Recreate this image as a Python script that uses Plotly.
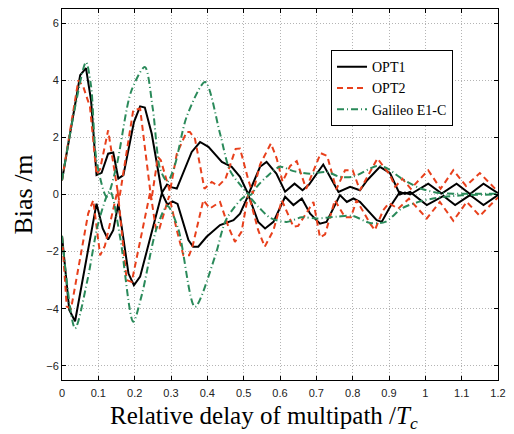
import plotly.graph_objects as go

# ---------------- data ----------------
opt1_up_x = [0, 0.05, 0.066, 0.08, 0.095, 0.109, 0.127, 0.141, 0.155, 0.169, 0.198, 0.215, 0.228, 0.247,
             0.275, 0.289, 0.303, 0.316, 0.357, 0.380, 0.403, 0.440, 0.467, 0.490, 0.513, 0.545, 0.563,
             0.590, 0.614, 0.640, 0.662, 0.680, 0.719, 0.761, 0.793, 0.820, 0.840, 0.875, 0.903, 0.930,
             0.944, 0.958, 1.008, 1.045, 1.086, 1.123, 1.160, 1.200]
opt1_up_y = [0.5, 4.18, 4.43, 3.3, 0.68, 0.76, 1.43, 1.47, 0.56, 0.68, 2.54, 3.09, 3.05, 2.13,
             0.06, 0.35, 0.25, 0.21, 1.49, 1.84, 1.67, 1.14, 0.97, 0.62, 0.0, 0.97, 1.14,
             0.73, 0.10, 0.38, 0.15, 0.35, 1.05, 0.09, 0.27, 0.15, 0.5, 0.97, 0.75, 0.0,
             0.07, 0.0, 0.38, 0.03, 0.38, 0.02, 0.38, 0.05]
opt1_lo_x = [0, 0.02, 0.036, 0.095, 0.112, 0.127, 0.141, 0.155, 0.183, 0.198, 0.215, 0.261, 0.275,
             0.290, 0.304, 0.318, 0.348, 0.361, 0.375, 0.398, 0.435, 0.472, 0.490, 0.513, 0.540, 0.559,
             0.582, 0.614, 0.637, 0.660, 0.683, 0.710, 0.728, 0.765, 0.784, 0.802, 0.820, 0.866, 0.880,
             0.903, 0.930, 0.944, 0.958, 1.004, 1.050, 1.082, 1.123, 1.160, 1.200]
opt1_lo_y = [-1.45, -4.05, -4.44, -0.32, -1.19, -1.58, -1.25, -0.32, -2.77, -3.18, -2.88, -0.67, 0.05,
             -0.35, -0.24, -0.33, -1.6, -1.83, -1.83, -1.48, -1.07, -0.9, -0.67, -0.02, -0.96, -1.19,
             -0.96, -0.08, -0.37, -0.14, -0.67, -1.02, -0.96, -0.02, -0.26, -0.14, -0.26, -0.90, -0.96,
             -0.43, 0.09, 0.02, 0.09, -0.37, -0.05, -0.37, -0.02, -0.37, -0.02]

opt2_up_x = [0, 0.045, 0.058, 0.077, 0.095, 0.105, 0.127, 0.157, 0.196, 0.215, 0.246, 0.264, 0.272,
             0.297, 0.316, 0.343, 0.352, 0.366, 0.392, 0.412, 0.430, 0.450, 0.478, 0.490, 0.513, 0.525,
             0.545, 0.575, 0.591, 0.607, 0.628, 0.646, 0.672, 0.712, 0.730, 0.755, 0.779, 0.800, 0.820,
             0.868, 0.903, 0.917, 0.937, 0.960, 1.008, 1.042, 1.077, 1.112, 1.150, 1.190, 1.200]
opt2_up_y = [0.5, 4.0, 3.8, 3.07, 0.7, 0.9, 2.25, -0.2, 2.95, 3.01, -0.2, 1.32, 1.2,
             0.1, 1.43, 2.19, 2.19, 1.95, 0.2, 0.44, 0.3, 0.55, 1.6, 1.61, 0.5, 0.03,
             1.05, 1.79, 1.26, 0.45, 1.0, 1.17, 0.2, 1.45, 1.35, 0.18, 0.85, 0.85, 0.15,
             1.26, 0.68, 0.27, 0.55, 0.2, 0.85, 0.2, 0.85, 0.3, 0.75, 0.2, 0.1]
opt2_lo_x = [0, 0.013, 0.025, 0.072, 0.086, 0.105, 0.118, 0.153, 0.178, 0.192, 0.243, 0.259, 0.268,
             0.295, 0.316, 0.334, 0.350, 0.360, 0.389, 0.407, 0.435, 0.458, 0.476, 0.494, 0.513, 0.540,
             0.558, 0.582, 0.605, 0.637, 0.650, 0.692, 0.710, 0.724, 0.751, 0.779, 0.795, 0.811, 0.848,
             0.861, 0.884, 0.900, 0.925, 0.955, 1.004, 1.040, 1.077, 1.114, 1.150, 1.180, 1.200]
opt2_lo_y = [-1.45, -3.93, -4.0, -0.67, -0.2, -2.13, -1.8, 0.15, -3.0, -3.06, 0.1, -1.25, -1.2,
             -0.05, -1.25, -2.13, -2.13, -1.78, -0.2, -0.49, -0.26, -1.13, -1.66, -1.31, 0.03, -1.25,
             -1.83, -1.25, -0.2, -1.13, -1.1, -0.26, -1.5, -1.4, -0.2, -0.8, -0.8, -0.2, -1.02,
             -1.25, -0.55, -0.3, -0.5, -0.15, -0.84, -0.26, -0.92, -0.26, -0.75, -0.37, -0.1]

gal_up_x = [0, 0.035, 0.066, 0.08, 0.095, 0.123, 0.15, 0.19, 0.228, 0.25, 0.27, 0.29, 0.31, 0.343,
            0.394, 0.435, 0.462, 0.495, 0.518, 0.536, 0.563, 0.6, 0.637, 0.683, 0.728, 0.765, 0.80,
            0.866, 0.89, 0.935, 0.985, 1.04, 1.105, 1.2]
gal_up_y = [0.5, 3.0, 4.64, 3.8, 1.2, -0.08, 1.0, 3.6, 4.47, 3.0, 0.9, 0.45, 1.0, 2.72,
            3.94, 2.13, 0.85, 0.27, -0.02, 0.27, 0.62, 0.97, 0.82, 0.73, 0.79, 0.62, 0.62,
            1.0, 0.95, 0.56, 0.22, 0.05, 0.03, 0.03]
gal_lo_x = [0, 0.036, 0.07, 0.1, 0.132, 0.16, 0.196, 0.22, 0.26, 0.29, 0.32, 0.366, 0.421, 0.453,
            0.508, 0.54, 0.573, 0.618, 0.66, 0.70, 0.756, 0.80, 0.848, 0.89, 0.935, 0.981, 1.03,
            1.1, 1.2]
gal_lo_y = [-1.45, -4.69, -3.0, -1.0, 0.12, -1.5, -4.46, -3.5, -1.2, -0.4, -1.2, -3.94, -2.18, -0.85,
            -0.05, -0.43, -0.82, -0.96, -0.8, -0.84, -0.78, -0.75, -1.0, -0.96, -0.49, -0.26, -0.12,
            -0.03, 0.0]

x_tick_vals = [0, 0.1, 0.2, 0.3, 0.4, 0.5, 0.6, 0.7, 0.8, 0.9, 1.0, 1.1, 1.2]
x_tick_text = ["0", "0.1", "0.2", "0.3", "0.4", "0.5", "0.6", "0.7", "0.8", "0.9", "1", "1.1", "1.2"]
y_tick_vals = [-6, -4, -2, 0, 2, 4, 6]

series_names = ["OPT1", "OPT2", "Galileo E1-C"]
x_title = "Relative delay of multipath /<i>T</i><sub><i>c</i></sub>"
y_title = "Bias /m"

# ---------------- figure ----------------
def joined(ax, ay, bx, by):
    return list(ax) + [None] + list(bx), list(ay) + [None] + list(by)

fig = go.Figure()
styles = [
    dict(color="black", width=2, dash="solid"),
    dict(color="#E8401C", width=2, dash="6px,4px"),
    dict(color="#2A8A5A", width=2, dash="7px,3px,1px,3px"),
]
curves = [
    (opt1_up_x, opt1_up_y, opt1_lo_x, opt1_lo_y, "linear"),
    (opt2_up_x, opt2_up_y, opt2_lo_x, opt2_lo_y, "linear"),
    (gal_up_x, gal_up_y, gal_lo_x, gal_lo_y, "spline"),
]
for name, st, (ux, uy, lx, ly, shape) in zip(series_names, styles, curves):
    xx, yy = joined(ux, uy, lx, ly)
    line = dict(color=st["color"], width=st["width"], dash=st["dash"], shape=shape)
    if shape == "spline":
        line["smoothing"] = 0.8
    fig.add_trace(go.Scatter(x=xx, y=yy, mode="lines", name=name, line=line,
                             connectgaps=False))

axis_common = dict(
    showline=True, linecolor="black", linewidth=1, mirror="ticks",
    ticks="inside", ticklen=4, tickcolor="black",
    showgrid=True, gridcolor="#b4b4b4", griddash="1px,2px", gridwidth=1,
    zeroline=False, automargin=False,
    tickfont=dict(family="Liberation Sans, Arial", size=11, color="#222"),
)

fig.update_xaxes(range=[0, 1.2], tickvals=x_tick_vals, ticktext=x_tick_text,
                 ticklabelstandoff=3, **axis_common)
fig.update_yaxes(range=[-6.5, 6.5], tickvals=y_tick_vals,
                 title=dict(text=y_title,
                            font=dict(family="Liberation Serif, Times New Roman", size=26, color="black"),
                            standoff=6),
                 **axis_common)

# x-axis title placed as an annotation (slightly left of the plot centre, as in the original)
fig.add_annotation(text=x_title, xref="paper", yref="paper", x=0.463, y=-0.053,
                   xanchor="center", yanchor="top", showarrow=False,
                   font=dict(family="Liberation Serif, Times New Roman", size=25, color="black"))

# page body has an 8px margin, so the figure is sized to the remaining window area
fig.update_layout(
    width=506, height=426,
    margin=dict(l=54, r=16, t=1, b=54),
    paper_bgcolor="white", plot_bgcolor="white",
    legend=dict(x=0.617, y=0.889, xanchor="left", yanchor="top",
                bgcolor="white", bordercolor="black", borderwidth=1,
                font=dict(family="Liberation Serif, Times New Roman", size=14, color="black"),
                itemwidth=30, tracegroupgap=0),
    showlegend=True,
)

fig.write_html("out.html")
